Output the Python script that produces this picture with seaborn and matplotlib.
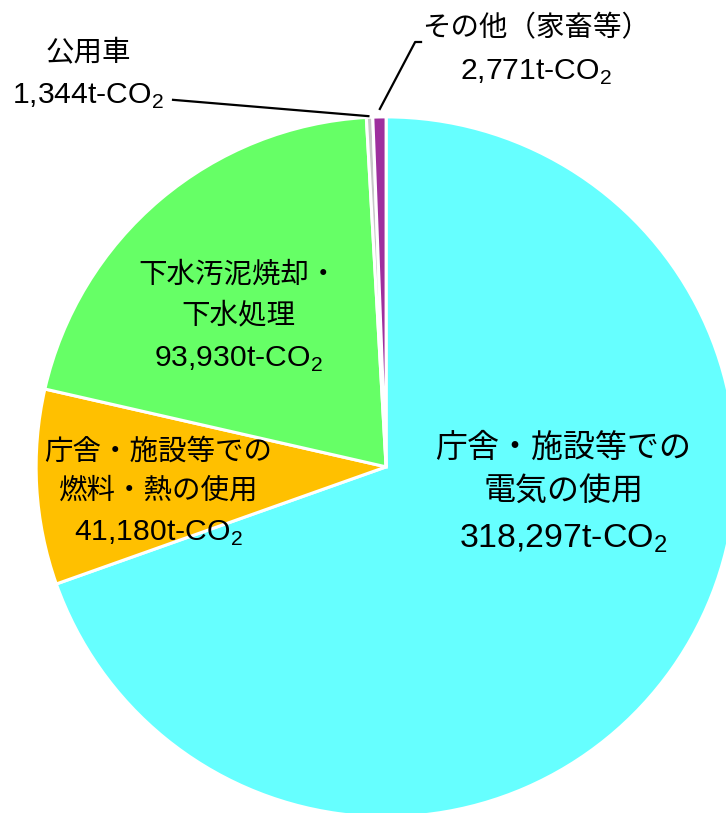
import numpy as np
import matplotlib
matplotlib.use("Agg")
import matplotlib.pyplot as plt
import seaborn as sns

sns.set_theme(style="white")
plt.rcParams["font.family"] = ["Liberation Sans", "Noto Sans CJK JP", "DejaVu Sans"]

# Emissions by source (t-CO2), clockwise from 12 o'clock
categories = ["庁舎・施設等での電気の使用", "庁舎・施設等での燃料・熱の使用",
              "下水汚泥焼却・下水処理", "公用車", "その他（家畜等）"]
values = [318297, 41180, 93930, 1344, 2771]
name_lines = [["庁舎・施設等での", "電気の使用"],
              ["庁舎・施設等での", "燃料・熱の使用"],
              ["下水汚泥焼却・", "下水処理"],
              ["公用車"],
              ["その他（家畜等）"]]
value_labels = ["318,297", "41,180", "93,930", "1,344", "2,771"]
colors = ["#66FFFF", "#FFC000", "#66FF66", "#C8C8C8", "#9E2F9E"]

fig = plt.figure(figsize=(7.26, 8.13), dpi=100)
ax = fig.add_axes([0, 0, 1, 1])

wedges, _ = ax.pie(values, colors=colors, startangle=90, counterclock=False,
                   radius=1.0, center=(0, 0),
                   wedgeprops=dict(edgecolor="white", linewidth=2.2))
ax.set_xlim(-1.103, 0.971)
ax.set_ylim(-0.989, 1.334)
ax.set_aspect("equal")
ax.axis("off")

cjk = ["Noto Sans CJK JP", "DejaVu Sans"]
lat = "Liberation Sans"

# label anchor (x, first-line y), line step, font size
layout = [
    (0.506, 0.054, 0.124, 23),
    (-0.651, 0.043, 0.110, 20.5),
    (-0.423, 0.549, 0.115, 20.5),
    (-0.851, 1.186, 0.115, 20.5),
    (0.428, 1.254, 0.114, 20.5),
]

for lines, val, (x, y, step, fs) in zip(name_lines, value_labels, layout):
    for i, line in enumerate(lines):
        ax.text(x, y - i * step, line, ha="center", va="center",
                fontsize=fs, family=cjk, color="black")
    ax.text(x, y - len(lines) * step - 0.012, val + r"t-CO$_\mathregular{2}$",
            ha="center", va="center", fontsize=fs * 1.06, family=lat,
            color="black")


def wedge_point(w, r):
    ang = np.deg2rad((w.theta1 + w.theta2) / 2)
    return r * np.cos(ang), r * np.sin(ang)


# leader lines for the two thin slices
gx, gy = wedge_point(wedges[3], 1.003)
ax.plot([-0.612, gx], [1.049, gy], color="black", lw=1.6, solid_capstyle="butt")
px, py = wedge_point(wedges[4], 1.02)
ax.plot([0.103, 0.083, px], [1.214, 1.214, py], color="black", lw=1.6,
        solid_capstyle="butt")

fig.savefig("out.png", dpi=100)
